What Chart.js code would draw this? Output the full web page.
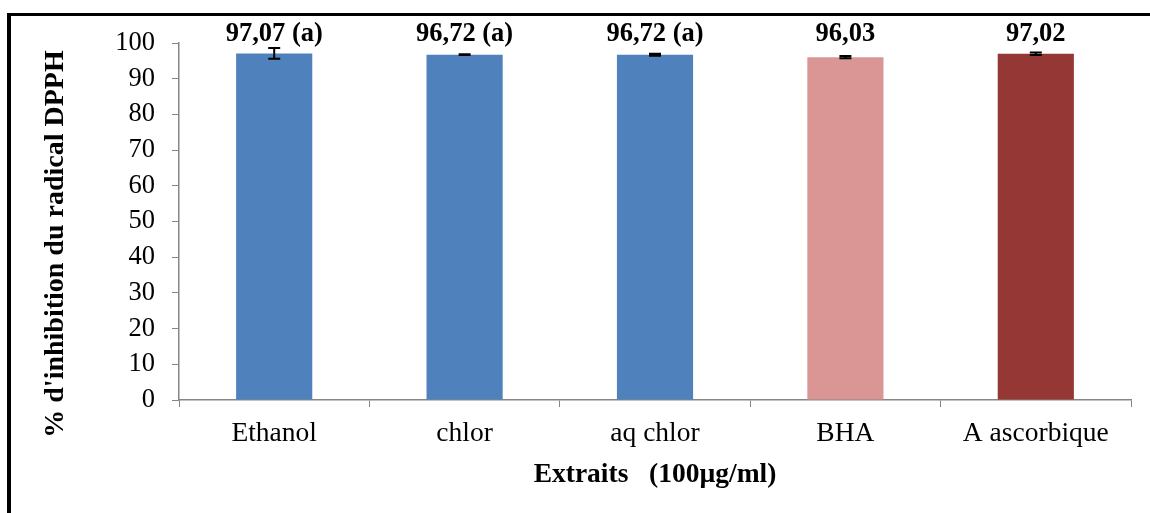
<!DOCTYPE html>
<html lang="fr">
<head>
<meta charset="UTF-8">
<title>Inhibition du radical DPPH</title>
<script src="https://cdn.jsdelivr.net/npm/chart.js"></script>
<style>
  html, body { margin: 0; padding: 0; background: #fff; }
</style>
</head>
<body>
<canvas id="dpphChart" width="1150" height="513"></canvas>
<script>
// données
const extraits = ['Ethanol', 'chlor', 'aq chlor', 'BHA', 'A ascorbique'];
const inhibition = [97.07, 96.72, 96.72, 96.03, 97.02];
const ecartType = [1.5, 0.1, 0.3, 0.3, 0.35];
const etiquettes = ['97,07 (a)', '96,72 (a)', '96,72 (a)', '96,03', '97,02'];
const couleurs = ['#4F81BD', '#4F81BD', '#4F81BD', '#D99694', '#953735'];

const serif = '"Liberation Serif", "Times New Roman", serif';
const gris = '#868686';

// cadre, barres d'erreur, étiquettes et titres des axes
const decor = {
  id: 'decor',
  beforeDraw(chart) {
    const ctx = chart.ctx;
    ctx.save();
    ctx.fillStyle = '#fff';
    ctx.fillRect(0, 0, chart.width, chart.height);
    ctx.fillStyle = '#000';
    ctx.fillRect(7, 13, 4, chart.height - 13);
    ctx.fillRect(7, 13, chart.width - 7, 3);
    ctx.restore();
  },
  afterDatasetsDraw(chart) {
    const ctx = chart.ctx;
    const y = chart.scales.y;
    const area = chart.chartArea;
    const bars = chart.getDatasetMeta(0).data;
    ctx.save();

    ctx.strokeStyle = '#000';
    ctx.lineWidth = 2;
    bars.forEach((bar, i) => {
      const hi = y.getPixelForValue(inhibition[i] + ecartType[i]);
      const lo = y.getPixelForValue(inhibition[i] - ecartType[i]);
      ctx.beginPath();
      ctx.moveTo(bar.x, hi); ctx.lineTo(bar.x, lo);
      ctx.moveTo(bar.x - 6, hi); ctx.lineTo(bar.x + 6, hi);
      ctx.moveTo(bar.x - 6, lo); ctx.lineTo(bar.x + 6, lo);
      ctx.stroke();
    });

    ctx.fillStyle = '#000';
    ctx.font = 'bold 26.5px ' + serif;
    ctx.textAlign = 'center';
    ctx.textBaseline = 'alphabetic';
    bars.forEach((bar, i) => {
      ctx.fillText(etiquettes[i], bar.x, y.getPixelForValue(100) - 2);
    });

    ctx.font = 'bold 27.5px ' + serif;
    ctx.fillText('Extraits   (100µg/ml)', (area.left + area.right) / 2, 482);

    ctx.font = 'bold 28px ' + serif;
    ctx.translate(63, 244);
    ctx.rotate(-Math.PI / 2);
    ctx.fillText("% d'inhibition du radical DPPH", 0, 0);
    ctx.restore();
  }
};

new Chart(document.getElementById('dpphChart'), {
  type: 'bar',
  data: {
    labels: extraits,
    datasets: [{
      data: inhibition,
      backgroundColor: couleurs,
      barPercentage: 0.4,
      categoryPercentage: 1.0
    }]
  },
  options: {
    responsive: false,
    devicePixelRatio: 1,
    animation: false,
    layout: { padding: { left: 20, right: 19, top: 43, bottom: 0 } },
    plugins: {
      legend: { display: false },
      tooltip: { enabled: false }
    },
    scales: {
      x: {
        afterFit: s => { s.height = 113; },
        grid: { offset: true, drawOnChartArea: false, tickLength: 7, color: gris },
        border: { color: gris, width: 1.5 },
        ticks: { color: '#000', padding: 10, font: { family: serif, size: 27.5 } }
      },
      y: {
        min: 0,
        max: 100,
        afterFit: s => { s.width = 159; },
        grid: { drawOnChartArea: false, tickLength: 7, color: gris },
        border: { color: gris, width: 1.5 },
        ticks: { stepSize: 10, color: '#000', padding: 17, font: { family: serif, size: 26.5 } }
      }
    }
  },
  plugins: [decor]
});
</script>
</body>
</html>
